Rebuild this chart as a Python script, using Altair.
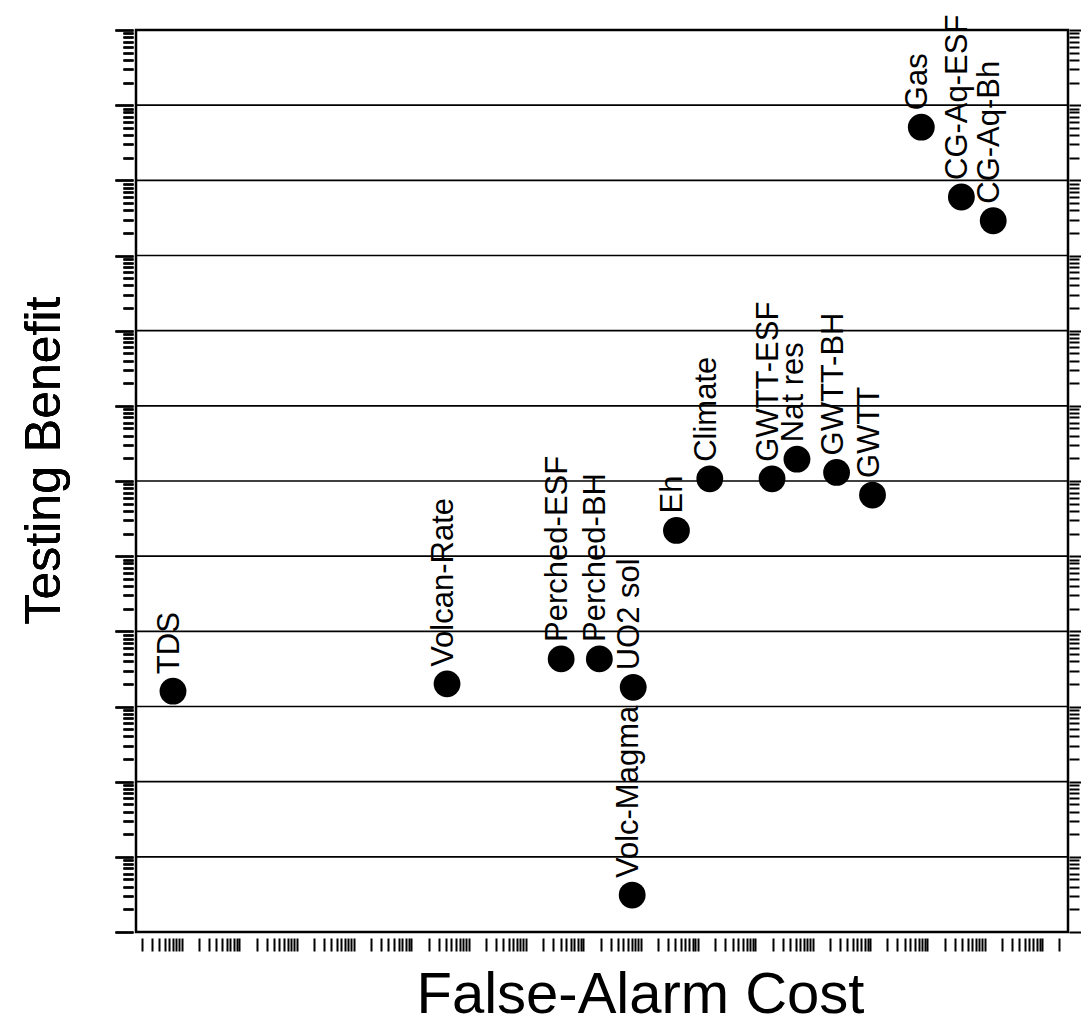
import altair as alt
import pandas as pd

labels = ["TDS", "Volcan-Rate", "Perched-ESF", "Perched-BH", "UO2 sol", "Volc-Magma",
          "Eh", "Climate", "GWTT-ESF", "Nat res", "GWTT-BH", "GWTT",
          "Gas", "CG-Aq-ESF", "CG-Aq-Bh"]
cost = [0.70, 4.2e4, 4.1e6, 1.9e7, 7.4e7, 7.1e7,
        4.2e8, 1.6e9, 1.95e10, 5.3e10, 2.6e11, 1.1e12,
        7.8e12, 3.9e13, 1.4e14]
benefit = [1600, 2000, 4300, 4300, 1800, 3.1,
           2.2e5, 1.07e6, 1.07e6, 1.95e6, 1.3e6, 6.5e5,
           5.1e10, 6.0e9, 2.9e9]

grid_decades = [10 ** k for k in range(1, 12)]
y_ticks = [m * 10 ** k for k in range(0, 12) for m in range(1, 10)] + [10 ** 12]
x_ticks = [m * 10.0 ** k for k in range(-1, 16) for m in range(1, 10)]
x_ticks = [v for v in x_ticks if 0.16 <= v <= 2.8e15]

X_DOMAIN = [0.1585, 2.818e15]
Y_DOMAIN = [1, 1e12]

df = pd.DataFrame({"label": labels, "cost": cost, "benefit": benefit})
grid_df = pd.DataFrame({"benefit": grid_decades})

FONT = "Liberation Sans"
is_decade = "abs(log(datum.value)/LN10 - round(log(datum.value)/LN10)) < 0.01"

xscale = alt.Scale(type="log", domain=X_DOMAIN, nice=False)
yscale = alt.Scale(type="log", domain=Y_DOMAIN, nice=False)

x_axis = alt.Axis(
    orient="bottom", values=x_ticks, labels=False, grid=False, domain=False,
    ticks=True, tickSize=13, tickWidth=2, tickColor="black", offset=6,
    title="False-Alarm Cost", titleFont=FONT, titleFontSize=58,
    titleFontWeight="normal", titleColor="black",
    titleX=504, titleY=74, titleAlign="center", titleBaseline="alphabetic",
)

y_axis_left = alt.Axis(
    orient="left", values=y_ticks, labels=False, grid=False, domain=False,
    ticks=True, tickWidth=2, tickColor="black", offset=3,
    tickSize={"condition": {"test": is_decade, "value": 18}, "value": 10},
    title="Testing Benefit", titleFont=FONT, titleFontSize=50,
    titleFontWeight="normal", titleColor="black",
    titleX=-89, titleY=430, titleAngle=270, titleAlign="center",
    titleBaseline="middle",
)

y_axis_right = alt.Axis(
    orient="right", values=y_ticks, labels=False, grid=False, domain=False,
    ticks=True, tickWidth=2, tickColor="black", offset=1,
    tickSize={"condition": {"test": is_decade, "value": 14}, "value": 10},
    title=None,
)

gridlines = alt.Chart(grid_df).mark_rule(color="black", strokeWidth=1.6).encode(
    y=alt.Y("benefit:Q", scale=yscale, axis=y_axis_left),
)

right_ticks = alt.Chart(grid_df).mark_rule(opacity=0).encode(
    y=alt.Y("benefit:Q", scale=yscale, axis=y_axis_right),
)

points = alt.Chart(df).mark_circle(size=720, color="black", opacity=1).encode(
    x=alt.X("cost:Q", scale=xscale, axis=x_axis),
    y=alt.Y("benefit:Q", scale=yscale, axis=y_axis_left),
)

text = alt.Chart(df).mark_text(
    angle=270, align="left", baseline="middle", dx=17, dy=-3,
    font=FONT, fontSize=31, color="black",
).encode(
    x=alt.X("cost:Q", scale=xscale, axis=x_axis),
    y=alt.Y("benefit:Q", scale=yscale, axis=y_axis_left),
    text="label:N",
)

chart = (
    alt.layer(gridlines, points, text, right_ticks)
    .resolve_scale(y="shared", x="shared")
    .resolve_axis(y="independent")
    .properties(
        width=932, height=902,
        autosize=alt.AutoSizeParams(type="none"),
        padding={"left": 128, "top": 22, "right": 13, "bottom": 92},
        background="white",
    )
    .configure_view(stroke="black", strokeWidth=2.5)
)

chart.save("out.html", embed_options={"renderer": "svg", "actions": False})
